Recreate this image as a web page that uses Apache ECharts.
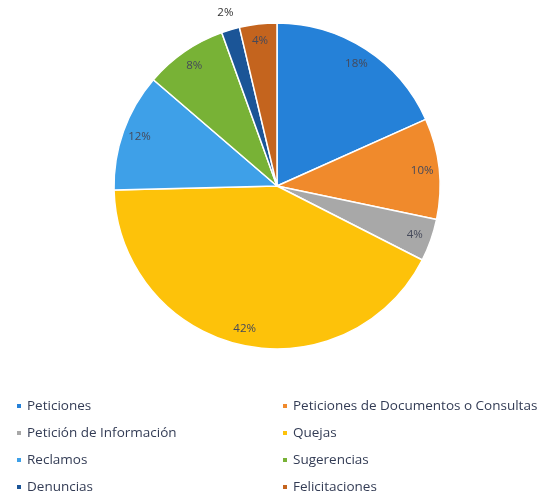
<!DOCTYPE html>
<html><head><meta charset="utf-8">
<script src="https://cdn.jsdelivr.net/npm/echarts@6/dist/echarts.min.js"></script>
<style>html,body{margin:0;padding:0;background:#fff}#c{width:539px;height:497px}</style>
</head><body><div id="c"></div>
<script>
const categories = ['Peticiones','Peticiones de Documentos o Consultas','Petición de Información','Quejas','Reclamos','Sugerencias','Denuncias','Felicitaciones'];
const values = [18.3,10,4.2,42.1,11.7,8.2,1.8,3.7];
const colors = ['#2581d8','#f08a2c','#a8a8a8','#fdc20a','#3ea0e8','#78b236','#1b5597','#c4641e'];
const leftLegend = ['Peticiones','Petición de Información','Reclamos','Denuncias'];
const rightLegend = ['Peticiones de Documentos o Consultas','Quejas','Sugerencias','Felicitaciones'];
const outsideLabelItems = ['Denuncias'];

const chart = echarts.init(document.getElementById('c'));
const mainData = categories.map((n,i)=>({name:n, value:values[i], itemStyle:{color:colors[i]}}));
const innerLabelData = categories.map((n,i)=>({name:n, value:values[i], label:{show:outsideLabelItems.indexOf(n)<0}}));
const outerLabelData = categories.map((n,i)=>({name:n, value:values[i], label:{show:outsideLabelItems.indexOf(n)>=0}}));
const legendCommon = {orient:'vertical', icon:'rect', itemWidth:6, itemHeight:6, itemGap:13, padding:0,
  textStyle:{fontFamily:'Open Sans', fontSize:13.5, color:'#333c55'}};
const labelStyle = {position:'inside', formatter:'{d}%', fontFamily:'Open Sans', fontSize:11.5, color:'#45495a'};
chart.setOption({
  animation:false,
  color: colors,
  legend:[
    Object.assign({left:15, top:399, data:leftLegend}, legendCommon),
    Object.assign({left:281, top:399, data:rightLegend}, legendCommon)
  ],
  series:[
    {type:'pie', center:[277,186], radius:163, startAngle:90, clockwise:true, percentPrecision:0,
     data:mainData, itemStyle:{borderColor:'#fff', borderWidth:1.5}, label:{show:false}, labelLine:{show:false}},
    {type:'pie', center:[277,186], radius:[138,148], startAngle:90, clockwise:true, silent:true, percentPrecision:0,
     data:innerLabelData, avoidLabelOverlap:false, itemStyle:{color:'rgba(0,0,0,0)'},
     label:labelStyle, labelLine:{show:false}},
    {type:'pie', center:[277,186], radius:[173,183], startAngle:90, clockwise:true, silent:true, percentPrecision:0,
     data:outerLabelData, avoidLabelOverlap:false, itemStyle:{color:'rgba(0,0,0,0)'},
     label:Object.assign({}, labelStyle, {color:'#333'}), labelLine:{show:false}}
  ]
});
</script></body></html>
